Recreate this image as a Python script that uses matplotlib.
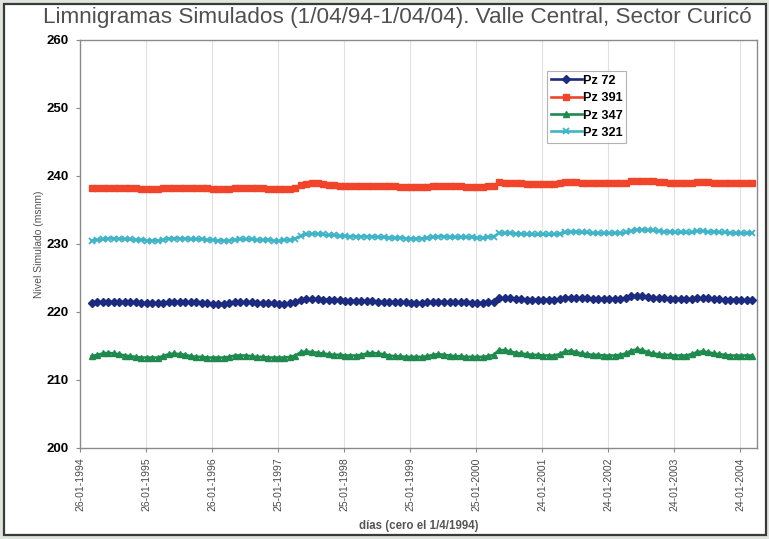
import matplotlib
matplotlib.use("Agg")
import matplotlib.pyplot as plt
from matplotlib.patches import Rectangle
import pandas as pd

# Monthly simulated levels (msnm), April 1994 to April 2004
months = pd.date_range("1994-04-01", periods=121, freq="MS")

pz_72 = [
    221.3, 221.4, 221.5, 221.5, 221.5, 221.5, 221.4, 221.4, 221.4, 221.3, 221.3, 221.3,
    221.3, 221.3, 221.4, 221.5, 221.5, 221.4, 221.4, 221.4, 221.3, 221.3, 221.2, 221.2,
    221.2, 221.3, 221.4, 221.4, 221.4, 221.4, 221.3, 221.3, 221.3, 221.3, 221.2, 221.2,
    221.3, 221.4, 221.8, 221.9, 221.9, 221.9, 221.8, 221.8, 221.7, 221.7, 221.6, 221.6,
    221.6, 221.6, 221.6, 221.6, 221.5, 221.5, 221.5, 221.4, 221.4, 221.4, 221.3, 221.3,
    221.3, 221.4, 221.4, 221.5, 221.5, 221.4, 221.4, 221.4, 221.4, 221.3, 221.3, 221.3,
    221.4, 221.5, 222.0, 222.0, 222.0, 221.9, 221.9, 221.8, 221.8, 221.8, 221.8, 221.8,
    221.8, 221.9, 222.1, 222.1, 222.1, 222.0, 222.0, 221.9, 221.9, 221.9, 221.9, 221.9,
    221.9, 222.0, 222.3, 222.4, 222.3, 222.2, 222.1, 222.0, 222.0, 221.9, 221.9, 221.9,
    221.9, 221.9, 222.0, 222.0, 222.0, 221.9, 221.9, 221.8, 221.8, 221.8, 221.7, 221.7,
    221.7,
]

pz_391 = [
    238.2, 238.2, 238.3, 238.3, 238.3, 238.3, 238.2, 238.2, 238.2, 238.1, 238.1, 238.1,
    238.1, 238.2, 238.3, 238.3, 238.3, 238.3, 238.2, 238.2, 238.2, 238.2, 238.1, 238.1,
    238.1, 238.1, 238.2, 238.2, 238.2, 238.2, 238.2, 238.2, 238.1, 238.1, 238.1, 238.1,
    238.1, 238.2, 238.7, 238.8, 238.9, 238.9, 238.8, 238.7, 238.7, 238.6, 238.6, 238.6,
    238.6, 238.6, 238.6, 238.6, 238.6, 238.5, 238.5, 238.5, 238.4, 238.4, 238.4, 238.4,
    238.4, 238.4, 238.5, 238.5, 238.5, 238.5, 238.5, 238.5, 238.4, 238.4, 238.4, 238.4,
    238.5, 238.6, 239.1, 239.0, 239.0, 238.9, 238.9, 238.8, 238.8, 238.8, 238.8, 238.8,
    238.8, 238.9, 239.1, 239.1, 239.1, 239.0, 239.0, 238.9, 238.9, 238.9, 238.9, 238.9,
    238.9, 239.0, 239.2, 239.3, 239.3, 239.2, 239.2, 239.1, 239.1, 239.0, 239.0, 239.0,
    239.0, 239.0, 239.1, 239.1, 239.1, 239.0, 239.0, 239.0, 238.9, 238.9, 238.9, 238.9,
    238.9,
]

pz_347 = [
    213.5, 213.7, 213.9, 214.0, 213.9, 213.8, 213.6, 213.5, 213.4, 213.3, 213.3, 213.3,
    213.3, 213.5, 213.8, 213.9, 213.8, 213.7, 213.5, 213.4, 213.4, 213.3, 213.3, 213.3,
    213.3, 213.4, 213.6, 213.6, 213.6, 213.5, 213.4, 213.4, 213.3, 213.3, 213.3, 213.3,
    213.4, 213.6, 214.1, 214.2, 214.1, 214.0, 213.9, 213.8, 213.7, 213.7, 213.6, 213.6,
    213.6, 213.7, 213.9, 214.0, 213.9, 213.8, 213.6, 213.5, 213.5, 213.4, 213.4, 213.4,
    213.4, 213.5, 213.7, 213.8, 213.7, 213.6, 213.5, 213.5, 213.4, 213.4, 213.4, 213.4,
    213.5, 213.7, 214.4, 214.4, 214.2, 214.0, 213.9, 213.8, 213.7, 213.7, 213.6, 213.6,
    213.6, 213.8, 214.2, 214.3, 214.1, 213.9, 213.8, 213.7, 213.7, 213.6, 213.6, 213.6,
    213.7, 213.9, 214.3, 214.5, 214.4, 214.1, 213.9, 213.8, 213.7, 213.7, 213.6, 213.6,
    213.6, 213.8, 214.1, 214.2, 214.1, 213.9, 213.8, 213.7, 213.6, 213.6, 213.6, 213.6,
    213.6,
]

pz_321 = [
    230.5, 230.6, 230.7, 230.8, 230.8, 230.8, 230.7, 230.7, 230.6, 230.6, 230.5, 230.5,
    230.5, 230.6, 230.8, 230.8, 230.8, 230.8, 230.7, 230.7, 230.7, 230.6, 230.6, 230.5,
    230.5, 230.5, 230.6, 230.7, 230.7, 230.7, 230.6, 230.6, 230.6, 230.5, 230.5, 230.6,
    230.6, 230.8, 231.2, 231.4, 231.5, 231.5, 231.4, 231.3, 231.3, 231.2, 231.2, 231.1,
    231.1, 231.1, 231.1, 231.1, 231.0, 231.0, 230.9, 230.9, 230.9, 230.8, 230.8, 230.8,
    230.8, 230.9, 231.0, 231.1, 231.1, 231.0, 231.0, 231.0, 231.0, 231.0, 230.9, 230.9,
    231.0, 231.1, 231.6, 231.6, 231.6, 231.5, 231.5, 231.4, 231.4, 231.4, 231.4, 231.4,
    231.4, 231.5, 231.7, 231.8, 231.8, 231.7, 231.7, 231.6, 231.6, 231.6, 231.6, 231.6,
    231.6, 231.7, 231.9, 232.1, 232.1, 232.0, 232.0, 231.9, 231.8, 231.8, 231.7, 231.7,
    231.7, 231.7, 231.9, 231.9, 231.8, 231.8, 231.7, 231.7, 231.6, 231.6, 231.6, 231.6,
    231.6,
]

series_names = ["Pz 72", "Pz 391", "Pz 347", "Pz 321"]

x_tick_labels = [
    "26-01-1994", "26-01-1995", "26-01-1996", "25-01-1997", "25-01-1998",
    "25-01-1999", "25-01-2000", "24-01-2001", "24-01-2002", "24-01-2003",
    "24-01-2004",
]
y_ticks = [200, 210, 220, 230, 240, 250, 260]

plt.rcParams["font.family"] = ["Liberation Sans", "DejaVu Sans"]

fig = plt.figure(figsize=(7.69, 5.39), dpi=100)
fig.patch.set_facecolor("white")

# outer panel frame
fig.patches.append(Rectangle((0, 0), 1, 1, transform=fig.transFigure,
                             facecolor="#dfe4dc", edgecolor="none", zorder=-3))
fig.patches.append(Rectangle((4 / 769, 4 / 539), 762 / 769, 531 / 539,
                             transform=fig.transFigure, facecolor="white",
                             edgecolor="#3a3a3a", lw=1.6, zorder=-2))

ax = fig.add_axes([80 / 769, 1 - 448 / 539, (757 - 80) / 769, (448 - 40) / 539])

styles = [
    dict(color="#1c2a80", marker="D", ms=3.6),
    dict(color="#f0452a", marker="s", ms=4.2),
    dict(color="#1f8a4e", marker="^", ms=4.4),
    dict(color="#3fb4c8", marker="x", ms=4.2, mew=1.3),
]
for vals, name, st in zip([pz_72, pz_391, pz_347, pz_321], series_names, styles):
    ax.plot(months, vals, lw=1.9, label=name, **st)

tick_dates = pd.to_datetime(x_tick_labels, format="%d-%m-%Y")
ax.set_xticks(tick_dates)
ax.set_xticklabels(x_tick_labels, rotation=90, fontsize=7.5, color="#4a4a4a")
ax.set_xlim(pd.Timestamp("1994-01-26"), pd.Timestamp("2004-04-27"))

ax.set_ylim(200, 260)
ax.set_yticks(y_ticks)
ax.set_yticklabels([str(v) for v in y_ticks], fontsize=9.5, fontweight="bold",
                   color="black")

ax.grid(axis="x", color="#e0e0e0", lw=0.8)
ax.set_axisbelow(True)
for sp in ax.spines.values():
    sp.set_color("#8a8a8a")
    sp.set_linewidth(1.0)
ax.tick_params(axis="both", length=3, color="#8a8a8a", width=0.8)
ax.tick_params(axis="x", pad=4)
ax.tick_params(axis="y", pad=5)

ax.set_ylabel("Nivel Simulado (msnm)", fontsize=7.5, color="#555555", labelpad=2)
ax.set_xlabel("días (cero el 1/4/1994)", fontsize=8.3, color="#555555",
              fontweight="bold", labelpad=6)

fig.text(397 / 769, 1 - 17 / 539,
         "Limnigramas Simulados (1/04/94-1/04/04). Valle Central, Sector Curicó",
         ha="center", va="center", fontsize=16.2, color="#505050")

leg = ax.legend(loc="upper left", bbox_to_anchor=(547 / 769, 1 - 71 / 539),
                bbox_transform=fig.transFigure, prop=dict(size=9.2, weight="bold"),
                labelspacing=0.42, handlelength=2.4, handletextpad=0.1,
                borderpad=0.3, borderaxespad=0, fancybox=False, frameon=True)
leg.get_frame().set_edgecolor("#a0a0a0")
leg.get_frame().set_linewidth(0.8)

fig.savefig("out.png", dpi=100)
